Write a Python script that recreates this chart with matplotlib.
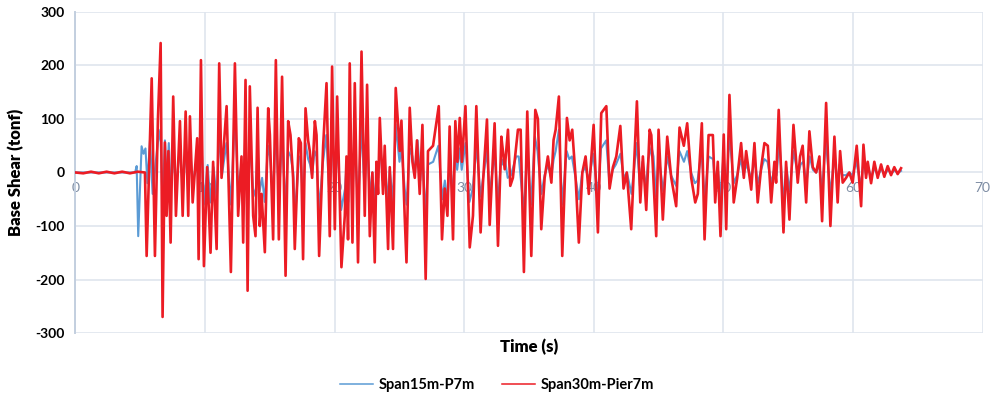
import matplotlib
matplotlib.use("Agg")
import matplotlib.pyplot as plt
from matplotlib.lines import Line2D

# ---------------- data ----------------
x_ticks = [0, 10, 20, 30, 40, 50, 60, 70]
y_ticks = [-300, -200, -100, 0, 100, 200, 300]

series_names = ["Span15m-P7m", "Span30m-Pier7m"]

red_t = [0, 0.6, 1.2, 1.8, 2.4, 3.0, 3.6, 4.2, 4.8, 5.36,
         5.49, 5.88, 6.13, 6.36, 6.57, 6.72, 6.90, 7.03, 7.17, 7.34,
         7.54, 7.75, 8.06, 8.27, 8.50, 8.70, 8.83, 9.04, 9.39, 9.50,
         9.68, 9.91, 10.16, 10.42, 10.62, 10.89, 11.09, 11.27, 11.66, 11.99,
         12.30, 12.55, 12.81, 12.94, 13.12, 13.28, 13.45, 13.71, 13.89, 14.05,
         14.22, 14.36, 14.61, 14.87, 15.00, 15.25, 15.46, 15.69, 15.94, 16.21,
         16.41, 16.59, 16.79, 16.92, 17.23, 17.39, 17.56, 17.75, 17.95, 18.08,
         18.26, 18.47, 18.60, 18.80, 19.11, 19.37, 19.62, 19.80, 20.01, 20.19,
         20.52, 20.78, 20.91, 21.03, 21.16, 21.37, 21.55, 21.80, 22.07, 22.32,
         22.50, 22.71, 22.91, 23.09, 23.22, 23.35, 23.48, 23.73, 23.86, 24.12,
         24.25, 24.50, 24.71, 25.02, 25.15, 25.40, 25.54, 25.79, 26.00, 26.18,
         26.35, 26.56, 26.77, 27.02, 27.20, 27.59, 28.03, 28.28, 28.49, 28.70,
         28.87, 29.13, 29.31, 29.47, 29.65, 29.82, 30.09, 30.42, 30.67, 30.93,
         31.26, 31.44, 31.75, 31.96, 32.34, 32.60, 32.86, 32.98, 33.12, 33.37,
         33.55, 33.75, 34.14, 34.35, 34.60, 34.86, 35.17, 35.48, 35.68, 35.94,
         36.20, 36.45, 36.72, 36.89, 37.05, 37.30, 37.56, 37.92, 38.13, 38.33,
         38.59, 38.84, 39.11, 39.36, 39.61, 39.98, 40.31, 40.57, 40.96, 41.21,
         41.47, 41.73, 42.04, 42.29, 42.54, 42.88, 43.32, 43.58, 43.78, 44.04,
         44.30, 44.43, 44.81, 44.99, 45.32, 45.66, 45.97, 46.35, 46.61, 46.94,
         47.20, 47.51, 47.82, 48.02, 48.33, 48.54, 48.85, 49.18, 49.36, 49.56,
         49.77, 50.02, 50.21, 50.46, 50.79, 51.06, 51.36, 51.57, 51.75, 52.14,
         52.39, 52.64, 52.91, 53.16, 53.42, 53.68, 53.93, 54.06, 54.26, 54.63,
         54.83, 55.09, 55.40, 55.73, 55.91, 56.11, 56.38, 56.63, 56.89, 57.15,
         57.40, 57.61, 57.92, 58.25, 58.56, 58.81, 59.00, 59.20, 59.46, 59.71,
         59.97, 60.28, 60.62, 60.80, 61.00, 61.13, 61.39, 61.64, 61.90, 62.16,
         62.41, 62.67, 62.93, 63.18, 63.44, 63.70]
red_v = [0, -1.5, 1.5, -1.5, 1.5, -1.5, 1.5, -1.5, 1.5, 0,
         -156, 176, -156, 99, 242, -270, 56, -81, 40, -131,
         142, -81, 96, -81, 114, -81, 105, -56, 64, -162,
         210, -175, 10, -150, 20, -143, 204, -10, 124, -186,
         204, -81, 30, -131, 173, -221, 161, -81, -119, 121,
         -100, -40, -149, 120, 70, -125, 210, -125, 179, -193,
         96, 70, -10, -143, 64, 55, -162, 120, 60, 40,
         -10, 96, 70, -156, 50, 167, -119, 198, -106, 142,
         -177, -81, 30, -125, 204, -131, 167, -168, 226, -81,
         164, -119, 0, -168, 20, -40, 102, -40, 50, -143,
         10, -143, 158, 40, 97, -81, -168, 121, 20, -10,
         60, -40, 89, -199, 40, 50, 124, -125, -30, -81,
         86, -125, 96, 20, 102, 20, 124, -140, -81, 124,
         -112, -20, 99, -98, 92, -137, 67, 40, 6, 80,
         -25, -10, 80, 80, -186, 114, -156, 117, 100, -106,
         -10, 30, -19, 61, 80, 142, -156, 102, 60, 80,
         -10, -131, 0, 30, -40, 89, -112, 111, 124, -30,
         10, 30, 87, -30, 0, -106, 133, -56, 30, -70,
         80, 70, -119, 80, -88, 67, -10, -63, 84, 50,
         92, -10, -56, -40, 92, -125, 70, 70, -56, 20,
         -119, 71, -106, 145, -56, -10, 55, -10, 40, -32,
         55, -56, 10, 55, 50, -56, 20, -19, 117, -112,
         20, -88, 89, -19, 30, 50, -56, 77, 10, 0,
         30, -91, 130, -100, 67, -56, 40, -19, -10, 0,
         -19, 50, -63, 52, -10, 20, -20, 20, -10, 15,
         -8, 12, -5, 10, -3, 8]

blue_t = [0, 4.6, 4.72, 4.84, 5.1, 5.25, 5.4, 5.55, 5.75, 5.95,
          6.15, 6.35, 6.55, 6.72, 6.9, 7.05, 7.2, 7.35, 7.55, 7.75,
          8.05, 8.3, 8.5, 8.7, 8.85, 9.05, 9.4, 9.5, 9.7, 9.9,
          10.2, 10.4, 10.65, 10.9, 11.1, 11.3, 11.65, 12.0, 12.3, 12.55,
          12.8, 12.95, 13.1, 13.3, 13.45, 13.7, 13.9, 14.05, 14.2, 14.4,
          14.6, 14.85, 15.0, 15.25, 15.45, 15.7, 15.95, 16.2, 16.4, 16.6,
          16.8, 16.95, 17.25, 17.4, 17.55, 17.75, 17.95, 18.1, 18.25, 18.45,
          18.6, 18.8, 19.1, 19.35, 19.6, 19.8, 20.0, 20.2, 20.5, 20.8,
          20.9, 21.05, 21.15, 21.35, 21.55, 21.8, 22.05, 22.3, 22.5, 22.7,
          22.9, 23.1, 23.25, 23.35, 23.5, 23.7, 23.85, 24.1, 24.25, 24.5,
          24.7, 25.0, 25.15, 25.4, 25.55, 25.8, 26.0, 26.2, 26.4, 26.6,
          26.75, 27.0, 27.2, 27.6, 28.0, 28.3, 28.5, 28.7, 28.9, 29.1,
          29.3, 29.45, 29.65, 29.8, 30.1, 30.4, 30.65, 30.95, 31.25, 31.45,
          31.75, 31.95, 32.35, 32.6, 32.85, 32.95, 33.1, 33.35, 33.6, 34.0,
          34.2, 34.6, 34.85, 35.15, 35.45, 35.65, 35.95, 36.2, 36.45, 36.7,
          36.9, 37.05, 37.3, 37.55, 37.9, 38.1, 38.3, 38.55, 38.85, 39.1,
          39.35, 39.6, 39.95, 40.3, 40.55, 40.95, 41.2, 41.45, 41.7, 42.05,
          42.3, 42.55, 42.9, 43.3, 43.55, 43.75, 44.0, 44.2, 44.45, 44.6,
          44.8, 45.0, 45.35, 45.65, 45.95, 46.35, 46.6, 46.95, 47.2, 47.5,
          47.8, 48.0, 48.3, 48.55, 48.85, 49.2, 49.35, 49.55, 49.75, 50.0,
          50.2, 50.45, 50.8, 51.05, 51.35, 51.55, 51.75, 52.15, 52.4, 52.65,
          52.9, 53.15, 53.4, 53.7, 53.95, 54.1, 54.3, 54.65, 54.85, 55.1,
          55.4, 55.75, 55.95, 56.15, 56.4, 56.65, 56.9, 57.15, 57.4, 57.6,
          57.9, 58.25, 58.55, 58.8, 58.95, 59.15, 59.45, 59.7, 59.95, 60.25,
          60.6, 60.8, 61.0, 61.15, 61.4, 61.65, 61.9, 62.2, 62.45, 62.7,
          62.95, 63.2, 63.45, 63.7]
blue_v = [0, 0, 12, -119, 49, 35, 45, -20, 60, -40,
          10, 55, 80, -60, 60, -20, 55, -40, 40, -30,
          45, -35, 50, -30, 40, -20, 30, -60, 70, -60,
          14, -56, 10, -50, 80, -5, 55, -60, 110, -30,
          15, -50, 70, -80, 65, -30, -45, 50, -35, -10,
          -55, 50, 30, -45, 80, -45, 70, -70, 40, 30,
          0, -80, 30, 25, -60, 55, 25, 15, -5, 40,
          30, -70, 20, 70, -45, 80, -40, 55, -70, -30,
          10, -55, 80, -55, 65, -70, 90, -30, 65, -45,
          0, -60, 10, -10, 60, -15, 25, -55, 5, -55,
          90, 20, 45, -30, -60, 45, 30, 0, 60, -15,
          40, -80, 15, 20, 50, -50, -15, -56, 35, -50,
          40, 5, 45, 5, 55, -55, -30, 50, -45, -10,
          40, -40, 35, -55, 25, 15, 30, -10, -5, 30,
          30, -75, 45, -60, 67, 40, -40, -5, 15, -10,
          25, 40, 80, -60, 40, 25, 30, -5, -50, 0,
          10, -15, 35, -45, 45, 60, -20, 5, 15, 35,
          -10, 0, -40, 55, -25, 20, -30, 25, 47, 30,
          -45, 30, -35, 30, -5, -25, 40, 20, 40, 0,
          -20, -15, 40, -50, 30, 25, -20, 10, -45, 30,
          -40, 70, -20, -5, 25, -5, 15, -10, 25, -20,
          5, 25, 20, -20, 10, -5, 60, -56, 10, -35,
          40, -5, 15, 20, -20, 30, 5, 0, 15, -35,
          60, -40, 30, -20, 15, -5, -5, 0, -5, 20,
          -25, 20, -5, 10, -8, 8, -5, 6, -3, 5,
          -2, 4, -1, 3]

# ---------------- figure ----------------
plt.rcParams['font.family'] = ['Lato', 'DejaVu Sans']

fig = plt.figure(figsize=(9.92, 3.97), dpi=100)
ax = fig.add_axes([0.0761, 0.1612, 0.9145, 0.8086])

blue_c = '#5b9bd5'
red_c = '#ec1c24'
grid_c = '#dfe5ee'

ax.plot(blue_t, blue_v, color=blue_c, lw=1.5, zorder=3, solid_joinstyle='round')
ax.plot(red_t, red_v, color=red_c, lw=1.9, zorder=4, solid_joinstyle='round')

ax.set_xlim(0, 70)
ax.set_ylim(-300, 300)
ax.set_xticks(x_ticks)
ax.set_yticks(y_ticks)
ax.set_xticklabels([str(v) for v in x_ticks])
ax.set_yticklabels([str(v) for v in y_ticks])

ax.grid(True, color=grid_c, lw=1.2, zorder=0)
ax.set_axisbelow(True)

for s in ['top', 'right']:
    ax.spines[s].set_visible(False)
ax.spines['left'].set_color('#c3cfdf')
ax.spines['left'].set_linewidth(1.4)
ax.spines['bottom'].set_position(('data', 0))
ax.spines['bottom'].set_visible(False)

ax.tick_params(axis='x', length=0, pad=7, labelsize=10, labelcolor='#7d8ca3')
ax.tick_params(axis='y', length=0, pad=8, labelsize=10)
for lab in ax.get_yticklabels():
    lab.set_fontweight('bold')

ax.set_ylabel('Base Shear (tonf)', fontsize=12, fontweight='heavy', labelpad=8)
fig.text(0.533, 0.126, 'Time (s)', ha='center', va='center', fontsize=12, fontweight='heavy')

handles = [Line2D([], [], color=blue_c, lw=1.1), Line2D([], [], color=red_c, lw=1.1)]
fig.legend(handles=handles, labels=series_names, loc='center', bbox_to_anchor=(0.501, 0.03),
           ncol=2, frameon=False, handlelength=2.3, columnspacing=1.8,
           handletextpad=0.4, prop={'weight': 'bold', 'size': 10.5})

fig.savefig('out.png', dpi=100)
